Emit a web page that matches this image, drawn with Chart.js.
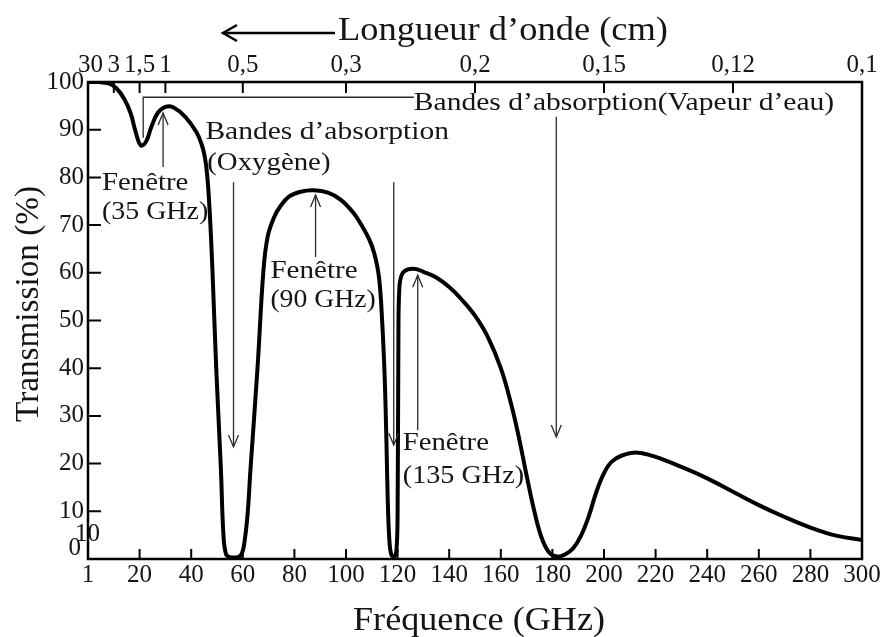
<!DOCTYPE html>
<html>
<head>
<meta charset="utf-8">
<script src="https://cdn.jsdelivr.net/npm/chart.js@4.4.1/dist/chart.umd.min.js"></script>
<style>
  body { margin: 0; background: #fff; }
  #wrap { width: 893px; height: 637px; position: relative; }
</style>
</head>
<body>
<div id="wrap"><canvas id="chart"></canvas></div>
<script>
// Transmission atmosphérique (%) en fonction de la fréquence (GHz)
const freqGHz = [0, 4, 8, 11, 14, 16.5, 18.5, 20.5, 22.5, 24.5, 27, 30, 33, 37.7, 42, 44, 45.2,
  46.2, 47.2, 48.2, 49.7, 51.5, 52.5, 53.5, 55, 58, 59.5, 60.5, 61.8, 63, 65.7, 68, 69.6, 72,
  74.6, 78, 82.4, 87.5, 93, 98, 103, 106, 109, 111, 112.8, 114, 115, 115.7, 116.2, 116.8, 117.5,
  118.5, 119.5, 120, 120.3, 120.7, 121.8, 124, 127, 130, 135, 140, 145, 150, 155, 160,
  164, 167, 170, 173, 176, 179, 182, 185, 188, 191, 194, 197, 200, 203, 207,
  213, 220, 230, 240, 250, 260, 270, 280, 290, 300];
const transmission = [100, 100, 99.7, 98.7, 96.5, 93.5, 89.5, 86.7, 87.5, 90.5, 93.5, 94.8, 94.7,
  92.7, 89.5, 87, 84.5, 80.5, 72.5, 61, 40, 19, 5, 1, 0.4, 0.4, 1, 3, 9, 19, 40, 60.5, 67.5, 71.5,
  74, 76, 77, 77.3, 76.8, 75.3, 72.5, 70, 67, 64, 59, 50, 38, 24, 12, 4, 1,
  0.5, 1.5, 10, 45, 57, 59.8, 60.7, 60.8, 60.2, 59, 57, 54.3, 51, 46.5, 40,
  32.5, 25.5, 17.5, 10, 4.2, 1.2, 0.5, 1, 2.2, 4.8, 8.8, 14, 18, 20.4, 21.7,
  22.3, 21.4, 19.3, 16.9, 14.1, 11.3, 8.8, 6.6, 4.9, 4];

// axe du bas
const freqTicks = [0, 20, 40, 60, 80, 100, 120, 140, 160, 180, 200, 220, 240, 260, 280, 300];
// axe du haut : longueur d'onde (cm) = 30 / f (GHz)
const waveTickFreq = [1, 10, 20, 30, 60, 100, 150, 200, 250, 300];
const waveTickLabels = ['30', '3', '1,5', '1', '0,5', '0,3', '0,2', '0,15', '0,12', '0,1'];
const transTicks = [0, 10, 20, 30, 40, 50, 60, 70, 80, 90, 100];

// textes dans le graphe (x1..x2 en GHz, y = ligne de base en %)
const notes = [
  { text: 'Bandes d’absorption(Vapeur d’eau)', x1: 126.3, x2: 289.2, y: 94.1 },
  { text: 'Bandes d’absorption', x1: 45.5, x2: 139.9, y: 88 },
  { text: '(Oxygène)', x1: 46.2, x2: 94, y: 81.5 },
  { text: 'Fenêtre', x1: 5.4, x2: 38.9, y: 77.4 },
  { text: '(35 GHz)', x1: 5.4, x2: 46.6, y: 71.3 },
  { text: 'Fenêtre', x1: 70.7, x2: 104.5, y: 58.9 },
  { text: '(90 GHz)', x1: 70.7, x2: 111.5, y: 52.8 },
  { text: 'Fenêtre', x1: 122, x2: 155.4, y: 22.9 },
  { text: '(135 GHz)', x1: 122, x2: 169, y: 15.9 }
];
// flèches verticales [x GHz, départ %, pointe %]
const arrows = [
  [56.4, 79, 23.5],
  [118.5, 79, 23.9],
  [181.5, 92.7, 25.6],
  [29.1, 82.2, 93.5],
  [88.2, 63.3, 76.3],
  [127.8, 27, 59.5]
];

const SERIF = '"Liberation Serif", "Times New Roman", serif';
const INK = '#151515';

function fitText(ctx, str, x, y, w, size) {
  ctx.save();
  ctx.font = size + 'px ' + SERIF;
  const m = ctx.measureText(str).width;
  ctx.translate(x, y);
  ctx.scale(w / m, 1);
  ctx.fillText(str, 0, 0);
  ctx.restore();
}

function drawArrow(ctx, x1, y1, x2, y2, len, half) {
  const a = Math.atan2(y2 - y1, x2 - x1);
  ctx.beginPath();
  ctx.moveTo(x1, y1);
  ctx.lineTo(x2, y2);
  ctx.stroke();
  ctx.beginPath();
  ctx.moveTo(x2 - len * Math.cos(a) + half * Math.sin(a), y2 - len * Math.sin(a) - half * Math.cos(a));
  ctx.lineTo(x2, y2);
  ctx.lineTo(x2 - len * Math.cos(a) - half * Math.sin(a), y2 - len * Math.sin(a) + half * Math.cos(a));
  ctx.stroke();
}

const decorPlugin = {
  id: 'decor',
  afterDraw(chart) {
    const ctx = chart.ctx;
    const area = chart.chartArea;
    const sx = chart.scales.x, sy = chart.scales.y;
    const X = v => sx.getPixelForValue(v);
    const Y = v => sy.getPixelForValue(v);

    ctx.save();
    // cadre
    ctx.strokeStyle = '#000';
    ctx.lineWidth = 2.5;
    ctx.strokeRect(area.left, area.top, area.right - area.left, area.bottom - area.top);

    // graduations vers l'intérieur
    ctx.lineWidth = 2;
    ctx.beginPath();
    freqTicks.forEach(v => {
      if (v === 0 || v === 300) return;
      ctx.moveTo(X(v), area.bottom);
      ctx.lineTo(X(v), area.bottom - 10);
    });
    waveTickFreq.forEach(v => {
      if (v === 1 || v === 300) return;
      ctx.moveTo(X(v), area.top);
      ctx.lineTo(X(v), area.top + 11);
    });
    transTicks.forEach(v => {
      if (v === 0 || v === 100) return;
      ctx.moveTo(area.left, Y(v));
      ctx.lineTo(area.left + 13, Y(v));
    });
    ctx.stroke();

    // libellés isolés à gauche
    ctx.fillStyle = INK;
    ctx.font = '25px ' + SERIF;
    ctx.textAlign = 'right';
    ctx.textBaseline = 'middle';
    ctx.fillText('0', area.left - 7, Y(0) - 11);
    ctx.textAlign = 'left';
    ctx.fillText('10', area.left - 13, Y(0) - 25);

    // traits de repère
    ctx.strokeStyle = '#2a2a2a';
    ctx.lineWidth = 1.3;
    ctx.beginPath();
    ctx.moveTo(X(21.4), Y(88.3));
    ctx.lineTo(X(21.4), Y(96.8));
    ctx.lineTo(X(126.3), Y(96.8));
    ctx.stroke();
    arrows.forEach(a => drawArrow(ctx, X(a[0]), Y(a[1]), X(a[0]), Y(a[2]), 12, 5));

    // textes du graphe
    ctx.textAlign = 'left';
    ctx.textBaseline = 'alphabetic';
    ctx.fillStyle = INK;
    notes.forEach(n => fitText(ctx, n.text, X(n.x1), Y(n.y), X(n.x2) - X(n.x1), 26));

    // titres des axes
    fitText(ctx, 'Longueur d’onde (cm)', 338, 40, 330, 34);
    fitText(ctx, 'Fréquence (GHz)', 353, 630, 252, 33);
    ctx.save();
    ctx.translate(38, 422);
    ctx.rotate(-Math.PI / 2);
    fitText(ctx, 'Transmission (%)', 0, 0, 236, 33);
    ctx.restore();

    ctx.strokeStyle = '#000';
    ctx.lineWidth = 2.5;
    drawArrow(ctx, 335, 33, 223, 33, 14, 8);
    ctx.restore();
  }
};

const tickFont = { family: SERIF, size: 25 };

new Chart(document.getElementById('chart'), {
  type: 'line',
  data: {
    datasets: [{
      data: freqGHz.map((f, i) => ({ x: f, y: transmission[i] })),
      borderColor: '#000',
      borderWidth: 4,
      pointRadius: 0,
      fill: false,
      tension: 0.4
    }]
  },
  options: {
    responsive: true,
    maintainAspectRatio: false,
    animation: false,
    devicePixelRatio: 1,
    layout: { padding: { top: 0, right: 31, bottom: 0, left: 0 } },
    plugins: { legend: { display: false }, tooltip: { enabled: false } },
    scales: {
      x: {
        type: 'linear', position: 'bottom', min: 0, max: 300,
        grid: { display: false, drawTicks: false },
        border: { display: false },
        afterBuildTicks: s => { s.ticks = freqTicks.map(v => ({ value: v })); },
        afterFit: s => { s.height = 78; },
        ticks: {
          autoSkip: false, maxRotation: 0, padding: 1, color: INK, font: tickFont,
          callback: v => (v === 0 ? '1' : v)
        }
      },
      xTop: {
        type: 'linear', position: 'top', min: 0, max: 300,
        grid: { display: false, drawTicks: false },
        border: { display: false },
        afterBuildTicks: s => { s.ticks = waveTickFreq.map(v => ({ value: v })); },
        afterFit: s => { s.height = 82; },
        ticks: {
          autoSkip: false, maxRotation: 0, padding: 2, color: INK, font: tickFont,
          callback: v => waveTickLabels[waveTickFreq.indexOf(v)]
        }
      },
      y: {
        min: 0, max: 100,
        grid: { display: false, drawTicks: false },
        border: { display: false },
        afterBuildTicks: s => { s.ticks = transTicks.map(v => ({ value: v })); },
        afterFit: s => { s.width = 88; },
        ticks: {
          padding: 4, color: INK, font: tickFont,
          callback: v => (v === 0 ? '' : v)
        }
      }
    }
  },
  plugins: [decorPlugin]
});
</script>
</body>
</html>
